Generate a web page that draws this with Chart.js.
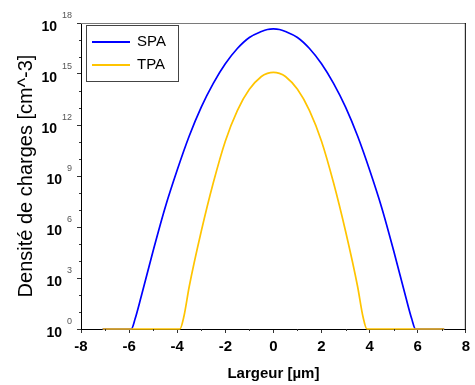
<!DOCTYPE html>
<html><head><meta charset="utf-8">
<script src="https://cdn.jsdelivr.net/npm/chart.js@4/dist/chart.umd.min.js"></script>
<style>html,body{margin:0;padding:0;background:#fff;}canvas{display:block;}</style>
</head><body>
<canvas id="c" width="475" height="385"></canvas>
<script>
const seriesNames = ['SPA', 'TPA'];
const spaX = [-7.1, -5.91, -5.75, -5.5, -5.0, -4.5, -4.0, -3.5, -3.0, -2.5, -2.0, -1.5, -1.0, -0.5, -0.25, 0, 0.25, 0.5, 1.0, 1.5, 2.0, 2.5, 3.0, 3.5, 4.0, 4.5, 5.0, 5.5, 5.75, 5.91, 7.1];
const spaVal = [1, 1, 4, 79, 4e4, 1.41e7, 2.24e9, 2.24e11, 1.12e13, 2.8e14, 3.98e15, 3.16e16, 1.41e17, 3.16e17, 4.17e17, 4.47e17, 4.17e17, 3.16e17, 1.41e17, 3.16e16, 3.98e15, 2.8e14, 1.12e13, 2.24e11, 2.24e9, 1.41e7, 4e4, 79, 4, 1, 1];
const tpaX = [-7.1, -3.89, -3.72, -3.5, -3.0, -2.5, -2.0, -1.5, -1.0, -0.5, -0.25, 0, 0.25, 0.5, 1.0, 1.5, 2.0, 2.5, 3.0, 3.5, 3.72, 3.89, 7.1];
const tpaVal = [1, 1, 5.6, 316, 5.6e5, 4e8, 1.12e11, 7.1e12, 1.26e14, 7.1e14, 1.09e15, 1.26e15, 1.09e15, 7.1e14, 1.26e14, 7.1e12, 1.12e11, 4e8, 5.6e5, 316, 5.6, 1, 1];
const yTickExponents = [0, 3, 6, 9, 12, 15, 18];
const yMinorExponents = [1, 2, 4, 5, 7, 8, 10, 11, 13, 14, 16, 17];
const xMinorTicks = [-7, -5, -3, -1, 1, 3, 5, 7];
const xTitle = 'Largeur [µm]';
const yTitle = 'Densité de charges [cm^-3]';
const colors = ['#0000ff', '#ffc400'];
const FONT = '"Liberation Sans", Arial, sans-serif';

const decor = {
  id: 'decor',
  afterDraw(chart) {
    const { ctx, chartArea: a, scales: { x, y } } = chart;
    ctx.save();
    ctx.lineWidth = 1;
    ctx.strokeStyle = '#7a7a7a';
    ctx.beginPath(); ctx.moveTo(a.left, a.top + 0.5); ctx.lineTo(a.right, a.top + 0.5); ctx.stroke();
    ctx.strokeStyle = '#000';
    ctx.beginPath(); ctx.moveTo(a.right - 0.5, a.top); ctx.lineTo(a.right - 0.5, a.bottom); ctx.stroke();
    ctx.strokeStyle = '#333';
    yMinorExponents.forEach(e => {
      const py = Math.round(y.getPixelForValue(Math.pow(10, e))) + 0.5;
      ctx.beginPath(); ctx.moveTo(a.left - 2, py); ctx.lineTo(a.left, py); ctx.stroke();
    });
    xMinorTicks.forEach(v => {
      const px = Math.round(x.getPixelForValue(v)) + 0.5;
      ctx.beginPath(); ctx.moveTo(px, a.bottom); ctx.lineTo(px, a.bottom + 2); ctx.stroke();
    });
    yTickExponents.forEach(e => {
      const py = y.getPixelForValue(Math.pow(10, e));
      const ex = String(e);
      ctx.font = '9px ' + FONT;
      ctx.fillStyle = '#555';
      ctx.textAlign = 'right';
      ctx.textBaseline = 'middle';
      ctx.fillText(ex, 72, py - 7);
      const w = ctx.measureText(ex).width;
      ctx.font = 'bold 14px ' + FONT;
      ctx.fillStyle = '#000';
      ctx.fillText('10', 72 - w - 5, py + 4);
    });
    ctx.fillStyle = '#000';
    ctx.font = 'bold 15px ' + FONT;
    ctx.textAlign = 'center';
    ctx.textBaseline = 'middle';
    ctx.fillText(xTitle, (a.left + a.right) / 2, 374);
    ctx.save();
    ctx.translate(26, (a.top + a.bottom) / 2);
    ctx.rotate(-Math.PI / 2);
    ctx.font = '20px ' + FONT;
    ctx.fillText(yTitle, 0, 0);
    ctx.restore();
    ctx.strokeStyle = '#444';
    ctx.strokeRect(86.5, 25.5, 92, 56);
    const rows = [42, 65];
    seriesNames.forEach((n, i) => {
      ctx.strokeStyle = colors[i];
      ctx.lineWidth = 2;
      ctx.beginPath(); ctx.moveTo(92, rows[i]); ctx.lineTo(130, rows[i]); ctx.stroke();
      ctx.fillStyle = '#000';
      ctx.font = '15px ' + FONT;
      ctx.textAlign = 'left';
      ctx.textBaseline = 'middle';
      ctx.fillText(n, 137, rows[i]);
    });
    ctx.restore();
  }
};

new Chart(document.getElementById('c'), {
  type: 'line',
  data: {
    datasets: [
      { label: seriesNames[0], data: spaX.map((v, i) => ({ x: v, y: spaVal[i] })), borderColor: colors[0], borderWidth: 1.7, pointRadius: 0, cubicInterpolationMode: 'monotone', fill: false, order: 1, clip: 4 },
      { label: seriesNames[1], data: tpaX.map((v, i) => ({ x: v, y: tpaVal[i] })), borderColor: colors[1], borderWidth: 1.7, pointRadius: 0, cubicInterpolationMode: 'monotone', fill: false, order: 0, clip: 4 }
    ]
  },
  options: {
    responsive: false,
    animation: false,
    events: [],
    layout: { padding: { top: 23, right: 5, left: 0, bottom: 0 } },
    plugins: { legend: { display: false }, tooltip: { enabled: false }, title: { display: false } },
    scales: {
      x: {
        type: 'linear', min: -8, max: 8,
        afterFit: s => { s.height = 56; },
        ticks: { stepSize: 2, color: '#000', font: { family: FONT, size: 15, weight: 'bold' }, padding: 5, maxRotation: 0 },
        grid: { drawOnChartArea: false, drawTicks: true, tickLength: 4, color: '#333' },
        border: { display: true, color: '#000', width: 1 }
      },
      y: {
        type: 'logarithmic', min: 1, max: 1e18,
        afterFit: s => { s.width = 81; },
        afterBuildTicks: s => { s.ticks = yTickExponents.map(e => ({ value: Math.pow(10, e) })); },
        ticks: { callback: () => '', color: '#000' },
        grid: { drawOnChartArea: false, drawTicks: true, tickLength: 4, color: '#333' },
        border: { display: true, color: '#000', width: 1 }
      }
    }
  },
  plugins: [decor]
});
</script>
</body></html>
